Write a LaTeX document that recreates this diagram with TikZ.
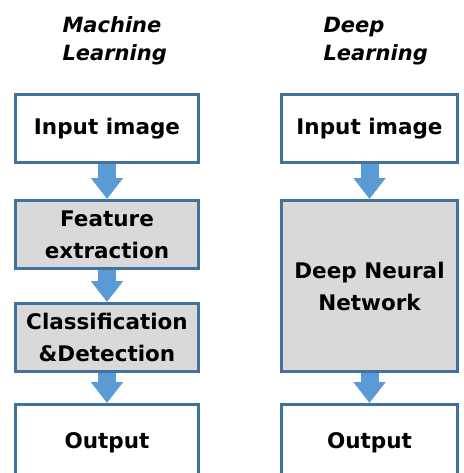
\documentclass[tikz,border=0pt]{standalone}
\usepackage{fontspec}
\setmainfont{DejaVu Sans}
\usetikzlibrary{arrows.meta, positioning}
\definecolor{boxline}{RGB}{65,113,156}
\definecolor{boxgray}{RGB}{217,217,217}
\definecolor{arrowblue}{RGB}{91,155,213}

\begin{document}
\begin{tikzpicture}[x=1pt,y=-1pt,
    every node/.style={font=\bfseries\fontsize{21.5}{32}\selectfont, align=center},
    stage/.style={draw=boxline, line width=3pt, minimum height=68pt, inner sep=0pt},
    mlbox/.style={stage, minimum width=183pt},
    dlbox/.style={stage, minimum width=176pt},
    shaded/.style={fill=boxgray},
    flow/.style={arrowblue, line width=18pt, -{Triangle[width=31pt,length=21pt]}},
    title/.style={font=\bfseries\itshape\fontsize{21}{28}\selectfont, align=left, anchor=base west}
]
    \useasboundingbox (0,0) rectangle (463,473);

    % column titles
    \node[title] (mltitle) at (59,61) {Machine\\Learning};
    \node[title] (dltitle) at (320,61) {Deep\\Learning};

    % machine learning pipeline
    \node[mlbox] (mlin) at (107,128.5) {Input image};
    \node[mlbox, shaded, below=35pt of mlin] (mlfeat) {Feature\\extraction};
    \node[mlbox, shaded, below=32pt of mlfeat] (mlcls) {Classification\\\&Detection};
    \node[mlbox, below=30pt of mlcls, minimum height=76pt] (mlout) {Output};

    % deep learning pipeline
    \node[dlbox] (dlin) at (369.5,128.5) {Input image};
    \node[dlbox, shaded, below=35pt of dlin, minimum height=171pt] (dlnet) {Deep Neural\\Network};
    \node[dlbox, below=30pt of dlnet, minimum height=76pt] (dlout) {Output};

    \draw[flow] (mlin) -- (mlfeat);
    \draw[flow] (mlfeat) -- (mlcls);
    \draw[flow] (mlcls) -- (mlout);
    \draw[flow] (dlin) -- (dlnet);
    \draw[flow] (dlnet) -- (dlout);
\end{tikzpicture}
\end{document}
